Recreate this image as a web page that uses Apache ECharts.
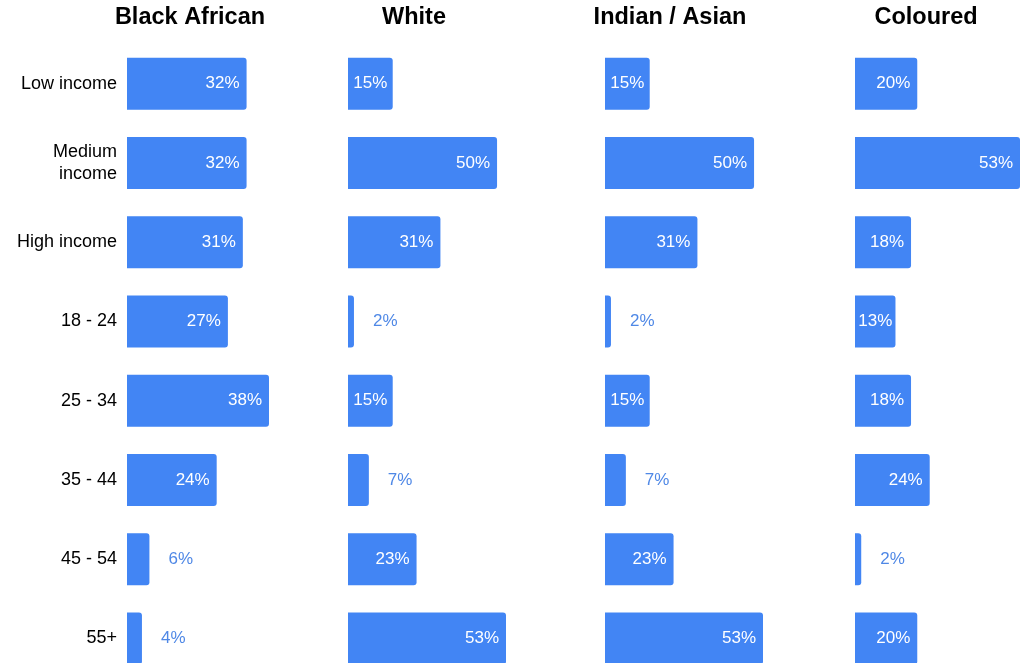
<!DOCTYPE html>
<html>
<head>
<meta charset="utf-8">
<script src="https://cdn.jsdelivr.net/npm/echarts@6/dist/echarts.min.js"></script>
<style>
  html, body { margin: 0; padding: 0; overflow: hidden; background: #fff; }
  #chart-root { width: 1026px; height: 690px; }
</style>
</head>
<body>
<div id="chart-root"></div>
<script>
// 数据
const categories = ["Low income", "Medium\nincome", "High income", "18 - 24", "25 - 34", "35 - 44", "45 - 54", "55+"];
const panelTitles = ["Black African", "White", "Indian / Asian", "Coloured"];
const blackAfrican = [32, 32, 31, 27, 38, 24, 6, 4];
const white = [15, 50, 31, 2, 15, 7, 23, 53];
const indianAsian = [15, 50, 31, 2, 15, 7, 23, 53];
const coloured = [20, 53, 18, 13, 18, 24, 2, 20];

const seriesData = [blackAfrican, white, indianAsian, coloured];
// layout of each panel: left edge, width in px, axis max
const panels = [
  { left: 127, width: 142, max: 38, titleX: 185 },
  { left: 348, width: 158, max: 53, titleX: 409 },
  { left: 605, width: 158, max: 53, titleX: 665 },
  { left: 855, width: 165, max: 53, titleX: 921 }
];
const barColor = "#4285f4";
const font = "Liberation Sans, Arial, sans-serif";

function makeData(values, p) {
  let scale = p.width / p.max;
  return values.map(v => {
    let px = v * scale;
    let label;
    if (px < 30) {
      label = { position: "right", distance: 19, color: "#4f88e6" };
    } else if (px < 50) {
      label = { position: "inside", color: "#fff" };
    } else {
      label = { position: "insideRight", distance: 7, color: "#fff" };
    }
    return { value: v, label: label };
  });
}

let chart = echarts.init(document.getElementById("chart-root"));

let option = {
  animation: false,
  title: panels.map((p, i) => ({
    text: panelTitles[i],
    left: p.titleX,
    top: 1,
    textAlign: "center",
    textStyle: { fontFamily: font, fontSize: 23.5, fontWeight: "bold", color: "#000" }
  })),
  grid: panels.map(p => ({
    left: p.left,
    width: p.width,
    top: 44,
    height: 634,
    outerBoundsMode: "none"
  })),
  xAxis: panels.map((p, i) => ({
    type: "value",
    gridIndex: i,
    min: 0,
    max: p.max,
    show: false
  })),
  yAxis: panels.map((p, i) => ({
    type: "category",
    gridIndex: i,
    inverse: true,
    data: categories,
    axisLine: { show: false },
    axisTick: { show: false },
    splitLine: { show: false },
    axisLabel: {
      show: i === 0,
      margin: 10,
      fontFamily: font,
      fontSize: 18,
      lineHeight: 22,
      color: "#000",
      align: "right"
    }
  })),
  series: panels.map((p, i) => ({
    type: "bar",
    xAxisIndex: i,
    yAxisIndex: i,
    barWidth: 52,
    itemStyle: { color: barColor, borderRadius: [0, 3, 3, 0] },
    label: {
      show: true,
      formatter: "{c}%",
      fontFamily: font,
      fontSize: 17
    },
    data: makeData(seriesData[i], p)
  }))
};

chart.setOption(option);
</script>
</body>
</html>
